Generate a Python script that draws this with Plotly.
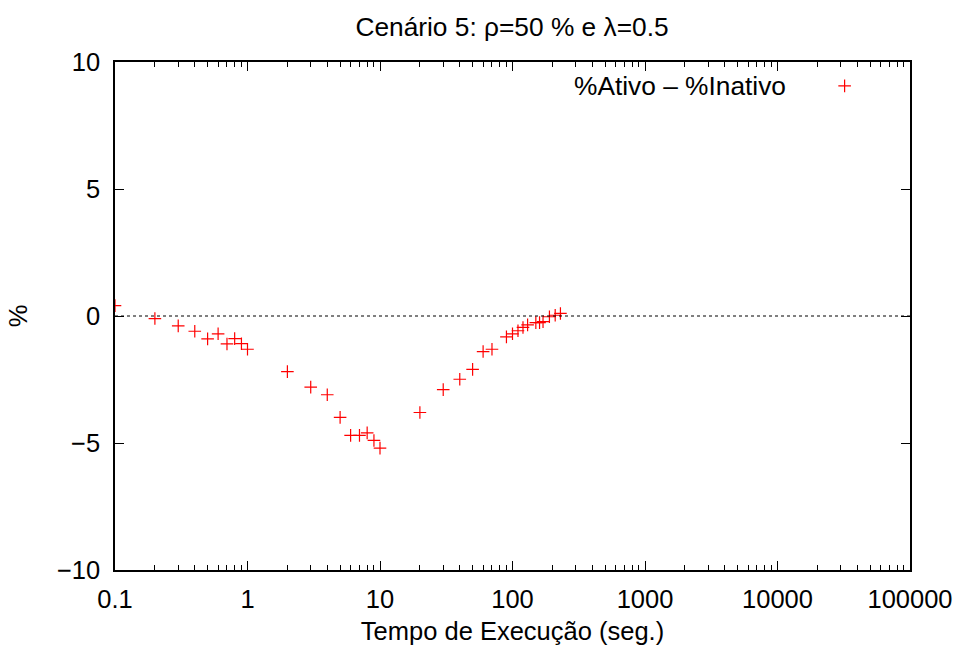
import plotly.graph_objects as go

tempo = [0.1, 0.2, 0.3, 0.4, 0.5, 0.6, 0.7, 0.8, 0.9, 1,
         2, 3, 4, 5, 6, 7, 8, 9, 10,
         20, 30, 40, 50, 60, 70, 90,
         100, 110, 120, 130, 150, 160, 170, 190, 210, 230]
diferenca = [0.41, -0.1, -0.39, -0.6, -0.9, -0.7, -1.1, -0.89, -1.09, -1.31,
             -2.19, -2.8, -3.1, -3.99, -4.7, -4.7, -4.6, -4.9, -5.2,
             -3.8, -2.9, -2.49, -2.1, -1.4, -1.31, -0.82,
             -0.7, -0.58, -0.45, -0.35, -0.26, -0.26, -0.22, -0.03, 0.03, 0.1]

x_tickvals = [0.1, 1, 10, 100, 1000, 10000, 100000]
x_ticktext = ["0.1", "1", "10", "100", "1000", "10000", "100000"]
y_tickvals = [-10, -5, 0, 5, 10]

serie_nome = "%Ativo – %Inativo"
titulo = "Cenário 5: ρ=50 % e λ=0.5"

FONT = "Liberation Sans, Arial, sans-serif"
FS = 25.5

fig = go.Figure()
fig.add_trace(go.Scatter(
    x=tempo, y=diferenca, mode="markers", name=" ",
    marker=dict(symbol="cross-thin-open", size=9, color="red",
                line=dict(color="red", width=1.2)),
    showlegend=True,
))

fig.add_hline(y=0, line=dict(color="black", width=1, dash="dot"))

fig.add_annotation(
    text=serie_nome, xref="paper", yref="paper",
    x=0.8465, y=0.953, xanchor="right", yanchor="middle",
    showarrow=False, font=dict(family=FONT, size=26.3, color="black"),
)

fig.update_layout(
    width=963, height=650,
    margin=dict(l=115, r=53, t=62, b=80, autoexpand=False),
    paper_bgcolor="white", plot_bgcolor="white",
    font=dict(family=FONT, size=FS, color="black"),
    title=dict(text=titulo, x=512 / 963, xanchor="center",
               y=1 - 27 / 650, yanchor="middle",
               font=dict(family=FONT, size=26.3, color="black")),
    legend=dict(x=0.8926, y=0.953, xanchor="left", yanchor="middle",
                bgcolor="rgba(0,0,0,0)", borderwidth=0,
                font=dict(family=FONT, size=20)),
    showlegend=True,
)

fig.update_xaxes(
    type="log", range=[-1, 5], automargin=False,
    tickvals=x_tickvals, ticktext=x_ticktext,
    ticks="inside", ticklen=9, tickcolor="black", tickwidth=1,
    minor=dict(ticks="inside", ticklen=5, tickcolor="black", tickwidth=1,
               dtick="D1", showgrid=False),
    showline=True, linecolor="black", linewidth=1.5, mirror="allticks",
    showgrid=False, zeroline=False,
    ticklabelstandoff=6,
    title=dict(text="Tempo de Execução (seg.)", standoff=10,
               font=dict(family=FONT, size=FS)),
    tickfont=dict(family=FONT, size=FS),
)
fig.update_yaxes(
    range=[-10, 10], automargin=False, tickvals=y_tickvals,
    ticks="inside", ticklen=9, tickcolor="black", tickwidth=1,
    showline=True, linecolor="black", linewidth=1.5, mirror="allticks",
    showgrid=False, zeroline=False,
    ticklabelstandoff=8,
    title=dict(text="%", standoff=22, font=dict(family=FONT, size=FS)),
    tickfont=dict(family=FONT, size=FS),
)

fig.write_html("out.html")
